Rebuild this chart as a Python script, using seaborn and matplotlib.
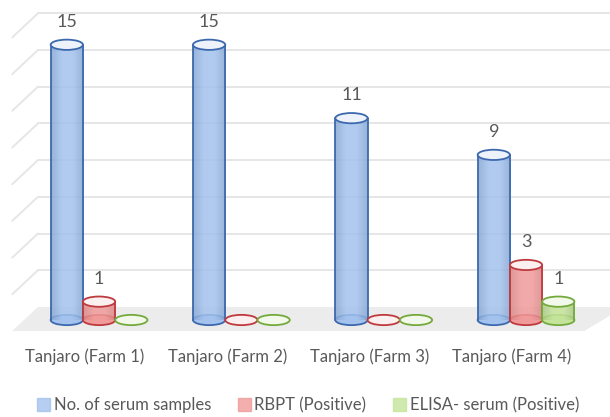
"""3D-style cylinder bar chart of serum sample results per farm."""

import matplotlib
matplotlib.use("Agg")
import matplotlib.pyplot as plt
import seaborn as sns
import pandas as pd
from matplotlib.patches import Ellipse, Polygon, Patch
from matplotlib.colors import LinearSegmentedColormap
from matplotlib.transforms import ScaledTranslation
import numpy as np

farms = ["Tanjaro (Farm 1)", "Tanjaro (Farm 2)", "Tanjaro (Farm 3)", "Tanjaro (Farm 4)"]
series = ["No. of serum samples", "RBPT (Positive)", "ELISA- serum (Positive)"]
serum_samples = [15, 15, 11, 9]
rbpt_positive = [1, 0, 0, 3]
elisa_positive = [0, 0, 0, 1]

body_colors = ["#a3c2ee", "#f09a9a", "#c4e49a"]
shade_colors = ["#86a6d2", "#d88585", "#a9c884"]
edge_colors = ["#3c69ad", "#be3a3e", "#74aa3d"]
top_colors = ["#eef3fb", "#fcefef", "#f3f9ea"]
text_color = "#595959"

df = pd.DataFrame({
    "farm": farms * 3,
    "count": serum_samples + rbpt_positive + elisa_positive,
    "test": [s for s in series for _ in farms],
})

sns.set_style("white")
plt.rcParams["font.family"] = ["Lato", "DejaVu Sans"]

fig = plt.figure(figsize=(6.1, 4.17), dpi=100)
ax = fig.add_axes([0, 77 / 417, 1, 340 / 417])

sns.barplot(data=df, x="farm", y="count", hue="test", hue_order=series,
            palette=body_colors, saturation=1, width=0.68, legend=False, ax=ax)

# axis limits so that one category = 142 px and one unit = 18.35 px
xmin, xmax = -0.696, 3.59
ymin, ymax = -1.09, 17.44
ax.set_xlim(xmin, xmax)
ax.set_ylim(ymin, ymax)

# 3D frame: floor, back wall grid and side wall lines
floor_front, floor_back = -0.6, 0.71
depth_dx = 0.18
left_back = -0.43
left_front = left_back - depth_dx
right_front = 3.41
ax.add_patch(Polygon([(left_front, floor_front), (right_front, floor_front),
                      (xmax + 0.1, floor_back), (left_back, floor_back)],
                     closed=True, facecolor="#ececec", edgecolor="none", zorder=0.5))
for k in range(1, 9):
    v = floor_back + 2 * k
    ax.plot([left_back, xmax], [v, v], color="#e6e6e6", lw=1.4, zorder=0.3)
    ax.plot([left_front, left_back], [v - (floor_back - floor_front), v],
            color="#e6e6e6", lw=1.4, zorder=0.3)

ell_h = 0.56
for i, container in enumerate(ax.containers):
    cmap = LinearSegmentedColormap.from_list(
        f"c{i}", [shade_colors[i], body_colors[i], body_colors[i], shade_colors[i]])
    grad = np.linspace(0, 1, 64).reshape(1, -1)
    for bar in container:
        x0, w, h = bar.get_x(), bar.get_width(), bar.get_height()
        cx = x0 + w / 2
        bar.set_visible(False)
        z = 2 + i * 0.1
        ax.add_patch(Ellipse((cx, 0), w, ell_h, facecolor=body_colors[i] if h > 0 else top_colors[i],
                             edgecolor=edge_colors[i], lw=1.3, zorder=z))
        if h > 0:
            ax.imshow(grad, cmap=cmap, extent=(x0, x0 + w, 0, h), aspect="auto",
                      alpha=0.85, zorder=z + 0.01, interpolation="bilinear")
            ax.plot([x0, x0], [0, h], color=edge_colors[i], lw=1.3, zorder=z + 0.02)
            ax.plot([x0 + w, x0 + w], [0, h], color=edge_colors[i], lw=1.3, zorder=z + 0.02)
            ax.add_patch(Ellipse((cx, h), w, ell_h, facecolor=top_colors[i],
                                 edgecolor=edge_colors[i], lw=1.3, zorder=z + 0.03))
            ax.text(cx, h + 1.25, f"{h:g}", ha="center", va="center",
                    fontsize=13, color=text_color, zorder=5)

ax.set_xlim(xmin, xmax)
ax.set_ylim(ymin, ymax)
ax.set_xlabel("")
ax.set_ylabel("")
ax.set_yticks([])
ax.tick_params(axis="x", length=0, pad=6, labelsize=12, labelcolor=text_color)
shift = ScaledTranslation(-14 / 100, 0, fig.dpi_scale_trans)
for lab in ax.get_xticklabels():
    lab.set_transform(lab.get_transform() + shift)
for s in ax.spines.values():
    s.set_visible(False)

handles = [Patch(facecolor=body_colors[i], edgecolor=body_colors[i], alpha=0.8, label=series[i])
           for i in range(3)]
fig.legend(handles=handles, loc="center", bbox_to_anchor=(0.505, 12 / 417), ncol=3,
           frameon=False, fontsize=12, labelcolor=text_color, handlelength=0.8,
           handleheight=0.8, handletextpad=0.2, columnspacing=1.6)

fig.savefig("out.png", dpi=100)
plt.close(fig)
